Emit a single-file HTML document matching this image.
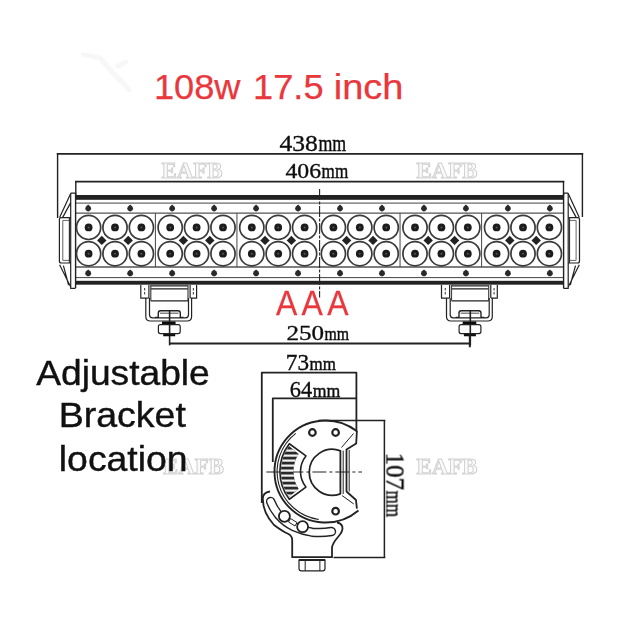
<!DOCTYPE html>
<html><head><meta charset="utf-8"><title>108w 17.5 inch light bar</title>
<style>
html,body{margin:0;padding:0;background:#fff;}
body{width:640px;height:636px;overflow:hidden;font-family:"Liberation Sans",sans-serif;}
svg{display:block;}
</style></head><body>
<svg width="640" height="636" viewBox="0 0 640 636">
<rect width="640" height="636" fill="#fff"/>
<text x="161.5" y="178" font-family="Liberation Serif, serif" font-weight="bold" font-size="24" fill="#fbfbfb" stroke="#d2d2d2" stroke-width="1.1" filter="url(#bl2)" textLength="61" lengthAdjust="spacingAndGlyphs">EAFB</text>
<text x="416.5" y="178" font-family="Liberation Serif, serif" font-weight="bold" font-size="24" fill="#fbfbfb" stroke="#d2d2d2" stroke-width="1.1" filter="url(#bl2)" textLength="61" lengthAdjust="spacingAndGlyphs">EAFB</text>
<text x="163" y="474" font-family="Liberation Serif, serif" font-weight="bold" font-size="24" fill="#fbfbfb" stroke="#d2d2d2" stroke-width="1.1" filter="url(#bl2)" textLength="61" lengthAdjust="spacingAndGlyphs">EAFB</text>
<text x="416.5" y="474" font-family="Liberation Serif, serif" font-weight="bold" font-size="24" fill="#fbfbfb" stroke="#d2d2d2" stroke-width="1.1" filter="url(#bl2)" textLength="61" lengthAdjust="spacingAndGlyphs">EAFB</text>
<defs><filter id="bl" x="-2%" y="-2%" width="104%" height="104%"><feGaussianBlur stdDeviation="0.42"/></filter><filter id="bl2"><feGaussianBlur stdDeviation="0.3"/></filter></defs>
<g filter="url(#bl)">
<g stroke="#222" fill="none" stroke-linecap="butt">
<path d="M56.8 153.9H583.2" stroke-width="1.8"/>
<path d="M57.6 153V218M582.4 153V217" stroke-width="1.4"/>
<path d="M75 181.6H564.3" stroke-width="1.7"/>
<path d="M75.8 181V196M563.5 181V196" stroke-width="1.4"/>
<rect x="75.6" y="195" width="488.0" height="4.8" fill="#222" stroke="none"/>
<rect x="75.6" y="280.8" width="488.0" height="3.9" fill="#222" stroke="none"/>
<path d="M75.6 203.1H563.6M75.6 277.6H563.6" stroke-width="1" stroke="#444"/>
<path d="M75.6 213.2H563.6M75.6 267H563.6" stroke-width="1.3" stroke="#555"/>
<path d="M75.6 193V288M563.6 193V288" stroke-width="1.4"/>
<path d="M319.59999999999997 189V297.4" stroke-width="1.1" stroke="#222" stroke-dasharray="11 1.5 3 1.5"/>
<path d="M155.4 213.2V267" stroke-width="1" stroke="#444"/>
<path d="M236.95 213.2V267" stroke-width="1" stroke="#444"/>
<path d="M400.05 213.2V267" stroke-width="1" stroke="#444"/>
<path d="M481.6 213.2V267" stroke-width="1" stroke="#444"/>
</g>
<g stroke="#222" fill="none" stroke-width="1.2" stroke-linejoin="round"><path d="M70.7 193.2H75.6M70.7 193.2V288.4H75.6" /><path d="M70.7 193.6L59.6 217.6M70.7 202.6L62.6 217.6"/><path d="M70.7 217.6H61.4Q59.4 217.6 59.4 219.6V261Q59.4 263 61.4 263H70.7"/><path d="M62.8 220.4V260.4" stroke="#666" stroke-width="1"/><path d="M62.8 220.4H69M62.8 260.4H69" stroke="#666" stroke-width="1"/><path d="M69.4 217.6V263" stroke="#333" stroke-width="1.2"/><path d="M59.6 264.8L70.7 287M63.4 265.6L68.6 285"/></g>
<g transform="translate(638.9 0) scale(-1 1)"><g stroke="#222" fill="none" stroke-width="1.2" stroke-linejoin="round"><path d="M70.7 193.2H75.6M70.7 193.2V288.4H75.6" /><path d="M70.7 193.6L59.6 217.6M70.7 202.6L62.6 217.6"/><path d="M70.7 217.6H61.4Q59.4 217.6 59.4 219.6V261Q59.4 263 61.4 263H70.7"/><path d="M62.8 220.4V260.4" stroke="#666" stroke-width="1"/><path d="M62.8 220.4H69M62.8 260.4H69" stroke="#666" stroke-width="1"/><path d="M69.4 217.6V263" stroke="#333" stroke-width="1.2"/><path d="M59.6 264.8L70.7 287M63.4 265.6L68.6 285"/></g></g>
<g>
<circle cx="88.6" cy="227.4" r="12.1" fill="#fff" stroke="#3a3a3a" stroke-width="1.7"/>
<circle cx="88.6" cy="227.4" r="3.9" fill="#1c1c1c"/>
<circle cx="88.6" cy="227.4" r="1" fill="#555"/>
<circle cx="88.6" cy="253.7" r="12.1" fill="#fff" stroke="#3a3a3a" stroke-width="1.7"/>
<circle cx="88.6" cy="253.7" r="3.9" fill="#1c1c1c"/>
<circle cx="88.6" cy="253.7" r="1" fill="#555"/>
<circle cx="115" cy="227.4" r="12.1" fill="#fff" stroke="#3a3a3a" stroke-width="1.7"/>
<circle cx="115" cy="227.4" r="3.9" fill="#1c1c1c"/>
<circle cx="115" cy="227.4" r="1" fill="#555"/>
<circle cx="115" cy="253.7" r="12.1" fill="#fff" stroke="#3a3a3a" stroke-width="1.7"/>
<circle cx="115" cy="253.7" r="3.9" fill="#1c1c1c"/>
<circle cx="115" cy="253.7" r="1" fill="#555"/>
<circle cx="141.4" cy="227.4" r="12.1" fill="#fff" stroke="#3a3a3a" stroke-width="1.7"/>
<circle cx="141.4" cy="227.4" r="3.9" fill="#1c1c1c"/>
<circle cx="141.4" cy="227.4" r="1" fill="#555"/>
<circle cx="141.4" cy="253.7" r="12.1" fill="#fff" stroke="#3a3a3a" stroke-width="1.7"/>
<circle cx="141.4" cy="253.7" r="3.9" fill="#1c1c1c"/>
<circle cx="141.4" cy="253.7" r="1" fill="#555"/>
<path d="M97.1 240.4L101.8 235.7L106.5 240.4L101.8 245.1Z" fill="#222"/>
<path d="M123.5 240.4L128.2 235.7L132.9 240.4L128.2 245.1Z" fill="#222"/>
<circle cx="170.2" cy="227.4" r="12.1" fill="#fff" stroke="#3a3a3a" stroke-width="1.7"/>
<circle cx="170.2" cy="227.4" r="3.9" fill="#1c1c1c"/>
<circle cx="170.2" cy="227.4" r="1" fill="#555"/>
<circle cx="170.2" cy="253.7" r="12.1" fill="#fff" stroke="#3a3a3a" stroke-width="1.7"/>
<circle cx="170.2" cy="253.7" r="3.9" fill="#1c1c1c"/>
<circle cx="170.2" cy="253.7" r="1" fill="#555"/>
<circle cx="196.6" cy="227.4" r="12.1" fill="#fff" stroke="#3a3a3a" stroke-width="1.7"/>
<circle cx="196.6" cy="227.4" r="3.9" fill="#1c1c1c"/>
<circle cx="196.6" cy="227.4" r="1" fill="#555"/>
<circle cx="196.6" cy="253.7" r="12.1" fill="#fff" stroke="#3a3a3a" stroke-width="1.7"/>
<circle cx="196.6" cy="253.7" r="3.9" fill="#1c1c1c"/>
<circle cx="196.6" cy="253.7" r="1" fill="#555"/>
<circle cx="223" cy="227.4" r="12.1" fill="#fff" stroke="#3a3a3a" stroke-width="1.7"/>
<circle cx="223" cy="227.4" r="3.9" fill="#1c1c1c"/>
<circle cx="223" cy="227.4" r="1" fill="#555"/>
<circle cx="223" cy="253.7" r="12.1" fill="#fff" stroke="#3a3a3a" stroke-width="1.7"/>
<circle cx="223" cy="253.7" r="3.9" fill="#1c1c1c"/>
<circle cx="223" cy="253.7" r="1" fill="#555"/>
<path d="M178.7 240.4L183.4 235.7L188.1 240.4L183.4 245.1Z" fill="#222"/>
<path d="M205.1 240.4L209.8 235.7L214.5 240.4L209.8 245.1Z" fill="#222"/>
<circle cx="251.8" cy="227.4" r="12.1" fill="#fff" stroke="#3a3a3a" stroke-width="1.7"/>
<circle cx="251.8" cy="227.4" r="3.9" fill="#1c1c1c"/>
<circle cx="251.8" cy="227.4" r="1" fill="#555"/>
<circle cx="251.8" cy="253.7" r="12.1" fill="#fff" stroke="#3a3a3a" stroke-width="1.7"/>
<circle cx="251.8" cy="253.7" r="3.9" fill="#1c1c1c"/>
<circle cx="251.8" cy="253.7" r="1" fill="#555"/>
<circle cx="278.2" cy="227.4" r="12.1" fill="#fff" stroke="#3a3a3a" stroke-width="1.7"/>
<circle cx="278.2" cy="227.4" r="3.9" fill="#1c1c1c"/>
<circle cx="278.2" cy="227.4" r="1" fill="#555"/>
<circle cx="278.2" cy="253.7" r="12.1" fill="#fff" stroke="#3a3a3a" stroke-width="1.7"/>
<circle cx="278.2" cy="253.7" r="3.9" fill="#1c1c1c"/>
<circle cx="278.2" cy="253.7" r="1" fill="#555"/>
<circle cx="304.6" cy="227.4" r="12.1" fill="#fff" stroke="#3a3a3a" stroke-width="1.7"/>
<circle cx="304.6" cy="227.4" r="3.9" fill="#1c1c1c"/>
<circle cx="304.6" cy="227.4" r="1" fill="#555"/>
<circle cx="304.6" cy="253.7" r="12.1" fill="#fff" stroke="#3a3a3a" stroke-width="1.7"/>
<circle cx="304.6" cy="253.7" r="3.9" fill="#1c1c1c"/>
<circle cx="304.6" cy="253.7" r="1" fill="#555"/>
<path d="M260.3 240.4L265 235.7L269.7 240.4L265 245.1Z" fill="#222"/>
<path d="M286.7 240.4L291.4 235.7L296.1 240.4L291.4 245.1Z" fill="#222"/>
<circle cx="333.4" cy="227.4" r="12.1" fill="#fff" stroke="#3a3a3a" stroke-width="1.7"/>
<circle cx="333.4" cy="227.4" r="3.9" fill="#1c1c1c"/>
<circle cx="333.4" cy="227.4" r="1" fill="#555"/>
<circle cx="333.4" cy="253.7" r="12.1" fill="#fff" stroke="#3a3a3a" stroke-width="1.7"/>
<circle cx="333.4" cy="253.7" r="3.9" fill="#1c1c1c"/>
<circle cx="333.4" cy="253.7" r="1" fill="#555"/>
<circle cx="359.8" cy="227.4" r="12.1" fill="#fff" stroke="#3a3a3a" stroke-width="1.7"/>
<circle cx="359.8" cy="227.4" r="3.9" fill="#1c1c1c"/>
<circle cx="359.8" cy="227.4" r="1" fill="#555"/>
<circle cx="359.8" cy="253.7" r="12.1" fill="#fff" stroke="#3a3a3a" stroke-width="1.7"/>
<circle cx="359.8" cy="253.7" r="3.9" fill="#1c1c1c"/>
<circle cx="359.8" cy="253.7" r="1" fill="#555"/>
<circle cx="386.2" cy="227.4" r="12.1" fill="#fff" stroke="#3a3a3a" stroke-width="1.7"/>
<circle cx="386.2" cy="227.4" r="3.9" fill="#1c1c1c"/>
<circle cx="386.2" cy="227.4" r="1" fill="#555"/>
<circle cx="386.2" cy="253.7" r="12.1" fill="#fff" stroke="#3a3a3a" stroke-width="1.7"/>
<circle cx="386.2" cy="253.7" r="3.9" fill="#1c1c1c"/>
<circle cx="386.2" cy="253.7" r="1" fill="#555"/>
<path d="M341.9 240.4L346.6 235.7L351.3 240.4L346.6 245.1Z" fill="#222"/>
<path d="M368.3 240.4L373 235.7L377.7 240.4L373 245.1Z" fill="#222"/>
<circle cx="415" cy="227.4" r="12.1" fill="#fff" stroke="#3a3a3a" stroke-width="1.7"/>
<circle cx="415" cy="227.4" r="3.9" fill="#1c1c1c"/>
<circle cx="415" cy="227.4" r="1" fill="#555"/>
<circle cx="415" cy="253.7" r="12.1" fill="#fff" stroke="#3a3a3a" stroke-width="1.7"/>
<circle cx="415" cy="253.7" r="3.9" fill="#1c1c1c"/>
<circle cx="415" cy="253.7" r="1" fill="#555"/>
<circle cx="441.4" cy="227.4" r="12.1" fill="#fff" stroke="#3a3a3a" stroke-width="1.7"/>
<circle cx="441.4" cy="227.4" r="3.9" fill="#1c1c1c"/>
<circle cx="441.4" cy="227.4" r="1" fill="#555"/>
<circle cx="441.4" cy="253.7" r="12.1" fill="#fff" stroke="#3a3a3a" stroke-width="1.7"/>
<circle cx="441.4" cy="253.7" r="3.9" fill="#1c1c1c"/>
<circle cx="441.4" cy="253.7" r="1" fill="#555"/>
<circle cx="467.8" cy="227.4" r="12.1" fill="#fff" stroke="#3a3a3a" stroke-width="1.7"/>
<circle cx="467.8" cy="227.4" r="3.9" fill="#1c1c1c"/>
<circle cx="467.8" cy="227.4" r="1" fill="#555"/>
<circle cx="467.8" cy="253.7" r="12.1" fill="#fff" stroke="#3a3a3a" stroke-width="1.7"/>
<circle cx="467.8" cy="253.7" r="3.9" fill="#1c1c1c"/>
<circle cx="467.8" cy="253.7" r="1" fill="#555"/>
<path d="M423.5 240.4L428.2 235.7L432.9 240.4L428.2 245.1Z" fill="#222"/>
<path d="M449.9 240.4L454.6 235.7L459.3 240.4L454.6 245.1Z" fill="#222"/>
<circle cx="496.6" cy="227.4" r="12.1" fill="#fff" stroke="#3a3a3a" stroke-width="1.7"/>
<circle cx="496.6" cy="227.4" r="3.9" fill="#1c1c1c"/>
<circle cx="496.6" cy="227.4" r="1" fill="#555"/>
<circle cx="496.6" cy="253.7" r="12.1" fill="#fff" stroke="#3a3a3a" stroke-width="1.7"/>
<circle cx="496.6" cy="253.7" r="3.9" fill="#1c1c1c"/>
<circle cx="496.6" cy="253.7" r="1" fill="#555"/>
<circle cx="523" cy="227.4" r="12.1" fill="#fff" stroke="#3a3a3a" stroke-width="1.7"/>
<circle cx="523" cy="227.4" r="3.9" fill="#1c1c1c"/>
<circle cx="523" cy="227.4" r="1" fill="#555"/>
<circle cx="523" cy="253.7" r="12.1" fill="#fff" stroke="#3a3a3a" stroke-width="1.7"/>
<circle cx="523" cy="253.7" r="3.9" fill="#1c1c1c"/>
<circle cx="523" cy="253.7" r="1" fill="#555"/>
<circle cx="549.4" cy="227.4" r="12.1" fill="#fff" stroke="#3a3a3a" stroke-width="1.7"/>
<circle cx="549.4" cy="227.4" r="3.9" fill="#1c1c1c"/>
<circle cx="549.4" cy="227.4" r="1" fill="#555"/>
<circle cx="549.4" cy="253.7" r="12.1" fill="#fff" stroke="#3a3a3a" stroke-width="1.7"/>
<circle cx="549.4" cy="253.7" r="3.9" fill="#1c1c1c"/>
<circle cx="549.4" cy="253.7" r="1" fill="#555"/>
<path d="M505.1 240.4L509.8 235.7L514.5 240.4L509.8 245.1Z" fill="#222"/>
<path d="M531.5 240.4L536.2 235.7L540.9 240.4L536.2 245.1Z" fill="#222"/>
</g>
<g fill="#2a2a2a">
<path d="M88.2 204.6L90.6 206.8A2.9 2.9 0 1 1 85.8 206.8Z"/>
<path d="M88.2 269.4L90.6 271.6A2.9 2.9 0 1 1 85.8 271.6Z"/>
<path d="M130.17 204.6L132.57 206.8A2.9 2.9 0 1 1 127.77 206.8Z"/>
<path d="M130.17 269.4L132.57 271.6A2.9 2.9 0 1 1 127.77 271.6Z"/>
<path d="M172.14 204.6L174.54 206.8A2.9 2.9 0 1 1 169.74 206.8Z"/>
<path d="M172.14 269.4L174.54 271.6A2.9 2.9 0 1 1 169.74 271.6Z"/>
<path d="M214.11 204.6L216.51 206.8A2.9 2.9 0 1 1 211.71 206.8Z"/>
<path d="M214.11 269.4L216.51 271.6A2.9 2.9 0 1 1 211.71 271.6Z"/>
<path d="M256.08 204.6L258.48 206.8A2.9 2.9 0 1 1 253.68 206.8Z"/>
<path d="M256.08 269.4L258.48 271.6A2.9 2.9 0 1 1 253.68 271.6Z"/>
<path d="M298.05 204.6L300.45 206.8A2.9 2.9 0 1 1 295.65 206.8Z"/>
<path d="M298.05 269.4L300.45 271.6A2.9 2.9 0 1 1 295.65 271.6Z"/>
<path d="M340.02 204.6L342.42 206.8A2.9 2.9 0 1 1 337.62 206.8Z"/>
<path d="M340.02 269.4L342.42 271.6A2.9 2.9 0 1 1 337.62 271.6Z"/>
<path d="M381.99 204.6L384.39 206.8A2.9 2.9 0 1 1 379.59 206.8Z"/>
<path d="M381.99 269.4L384.39 271.6A2.9 2.9 0 1 1 379.59 271.6Z"/>
<path d="M423.96 204.6L426.36 206.8A2.9 2.9 0 1 1 421.56 206.8Z"/>
<path d="M423.96 269.4L426.36 271.6A2.9 2.9 0 1 1 421.56 271.6Z"/>
<path d="M465.93 204.6L468.33 206.8A2.9 2.9 0 1 1 463.53 206.8Z"/>
<path d="M465.93 269.4L468.33 271.6A2.9 2.9 0 1 1 463.53 271.6Z"/>
<path d="M507.9 204.6L510.3 206.8A2.9 2.9 0 1 1 505.5 206.8Z"/>
<path d="M507.9 269.4L510.3 271.6A2.9 2.9 0 1 1 505.5 271.6Z"/>
<path d="M549.87 204.6L552.27 206.8A2.9 2.9 0 1 1 547.47 206.8Z"/>
<path d="M549.87 269.4L552.27 271.6A2.9 2.9 0 1 1 547.47 271.6Z"/>
</g>
<g stroke="#222" fill="none" stroke-width="1.2" stroke-linejoin="round"><path d="M140.8 285V298.2H148.6M148.9 285V298M196.6 285V298.2H190.4M190.1 285V298"/><path d="M144.6 288V295M193.4 288V295" stroke-dasharray="2.5 1.5" stroke="#555"/><path d="M150.8 285.8H188M150.8 288.8H188M150.8 300.8H188" /><path d="M150.8 285V300.8M188 285V300.8" stroke="#444"/><path d="M145.8 298V316.5Q145.8 321 150.3 321H187Q191.6 321 191.6 316.5V298"/><path d="M149.5 298V314.8Q149.5 317.8 152.5 317.8H185.5Q188.5 317.8 188.5 314.8V298"/><path d="M155 317.4H158.3V313Q158.3 310.8 160.5 310.8H178Q180.3 310.8 180.3 313V317.4H183.6" stroke-width="1.4"/><path d="M160 313.2H178.6" stroke="#666"/><path d="M169.6 311V345.4" stroke-width="1.6"/><path d="M162 322.9H175.6M163.2 334.9H175.2" stroke-width="2.7" stroke="#111"/><rect x="158.4" y="324.6" width="21.8" height="9" rx="2" /></g>
<g transform="translate(300.7 0)"><g stroke="#222" fill="none" stroke-width="1.2" stroke-linejoin="round"><path d="M140.8 285V298.2H148.6M148.9 285V298M196.6 285V298.2H190.4M190.1 285V298"/><path d="M144.6 288V295M193.4 288V295" stroke-dasharray="2.5 1.5" stroke="#555"/><path d="M150.8 285.8H188M150.8 288.8H188M150.8 300.8H188" /><path d="M150.8 285V300.8M188 285V300.8" stroke="#444"/><path d="M145.8 298V316.5Q145.8 321 150.3 321H187Q191.6 321 191.6 316.5V298"/><path d="M149.5 298V314.8Q149.5 317.8 152.5 317.8H185.5Q188.5 317.8 188.5 314.8V298"/><path d="M155 317.4H158.3V313Q158.3 310.8 160.5 310.8H178Q180.3 310.8 180.3 313V317.4H183.6" stroke-width="1.4"/><path d="M160 313.2H178.6" stroke="#666"/><path d="M169.6 311V345.4" stroke-width="1.6"/><path d="M162 322.9H175.6M163.2 334.9H175.2" stroke-width="2.7" stroke="#111"/><rect x="158.4" y="324.6" width="21.8" height="9" rx="2" /></g></g>
<path d="M169.6 343.4H469.8M469.8 335V347.2" stroke="#222" stroke-width="2" fill="none"/>
<g stroke="#222" fill="none" stroke-width="1.5" stroke-linejoin="round">
<path d="M261.8 503V372.6H356.4V431.5" stroke-width="1.8"/>
<path d="M272.8 462V398.4H356.4" stroke-width="1.8"/>
<path d="M318 420.4H385.4M384.4 420.4V557M333.5 557.4H385.4" stroke-width="1.5"/>
<path d="M266.4 472H362" stroke-width="1" stroke-dasharray="14 3 3 3"/>
<path d="M356.65 431.12A51 51 0 1 0 358.45 510.43" stroke-width="1.9"/>
<path d="M295.7 433.36A48.4 48.4 0 0 0 318.76 519.43" stroke-width="1.1"/>
<path d="M356.9 430.8L356.2 443.5L346.5 449.5V491.5L356 500L356.9 508.6" stroke-width="1.8"/>
<path d="M349.2 450V491.5" stroke-width="1"/>
<path d="M353.5 433.5L341.5 447.5M353.8 504L342 495.5" stroke-width="1"/>
<path d="M340.4 450.8A23 23 0 1 0 340.4 493.8Z" stroke-width="1.8"/>
<path d="M343.2 450.6V494" stroke-width="1"/>
<path d="M289.32 443.74A45.6 45.6 0 0 0 289.32 499.26L305.93 487.06A25 25 0 0 1 305.93 455.94Z" stroke-width="1.6"/>
<clipPath id="fc"><path d="M288.97 445.92A44.6 44.6 0 0 0 288.97 497.08L298.66 488.93A32 32 0 0 1 298.66 454.07Z"/></clipPath>
<g clip-path="url(#fc)"><rect x="270" y="440" width="40" height="64" fill="#2a2a2a" stroke="none"/>
<rect x="278" y="449.5" width="26" height="2.2" fill="#f2f2f2" stroke="none"/>
<rect x="278" y="454.5" width="26" height="2.2" fill="#f2f2f2" stroke="none"/>
<rect x="278" y="459.5" width="26" height="2.2" fill="#f2f2f2" stroke="none"/>
<rect x="278" y="464.5" width="26" height="2.2" fill="#f2f2f2" stroke="none"/>
<rect x="278" y="469.5" width="26" height="2.2" fill="#f2f2f2" stroke="none"/>
<rect x="278" y="474.5" width="26" height="2.2" fill="#f2f2f2" stroke="none"/>
<rect x="278" y="479.5" width="26" height="2.2" fill="#f2f2f2" stroke="none"/>
<rect x="278" y="484.5" width="26" height="2.2" fill="#f2f2f2" stroke="none"/>
<rect x="278" y="489.5" width="26" height="2.2" fill="#f2f2f2" stroke="none"/>
<rect x="278" y="494.5" width="26" height="2.2" fill="#f2f2f2" stroke="none"/>
</g>
<circle cx="312.4" cy="432.5" r="3.3" stroke-width="2.2"/>
<circle cx="335.6" cy="432.5" r="3.3" stroke-width="2.2"/>
<circle cx="335.6" cy="511.2" r="3.3" stroke-width="2.2"/>
<path d="M270 491.5Q262.6 492.5 262.8 499Q263 513 274 525Q282 531 288 533.8Q292.2 536 292.2 540V557.2H332V548Q332 544 338 537Q343.5 531 342.3 526.5Q341 523 337 522.5" stroke-width="1.8"/>
<path d="M270.6 501.5Q273 508 278.3 514.6Q285 522.5 293.9 526.7Q303 530.8 312.1 532.2Q322 533.2 331.5 531.5" stroke-width="9.4" stroke-linecap="round" stroke="#222"/>
<path d="M270.6 501.5Q273 508 278.3 514.6Q285 522.5 293.9 526.7Q303 530.8 312.1 532.2Q322 533.2 331.5 531.5" stroke-width="6.6" stroke-linecap="round" stroke="#fff"/>
<circle cx="284.4" cy="516.3" r="5.5" fill="#fff" stroke-width="1.8"/>
<circle cx="302.6" cy="526.7" r="5.5" fill="#fff" stroke-width="1.8"/>
<path d="M290.5 518.5L297 522.5L295 526L288.5 522Z" fill="#fff" stroke-width="1"/>
<path d="M299 559.8H325V568.5Q325 570.8 322.7 570.8H301.3Q299 570.8 299 568.5Z" stroke-width="1.2"/>
<path d="M299 560H325" stroke-width="2"/>
<path d="M305.2 560V570.8M319.9 560V570.8" stroke-width="1"/>
</g>
</g>
<path d="M82 54L100 58L112 72L124 84L130 91M118 66L126 62" stroke="#f7f7f7" stroke-width="5" fill="none" stroke-linecap="round" filter="url(#bl)"/>
<text x="153.9" y="99.3" font-family="Liberation Sans, sans-serif" font-size="35.4" fill="#e9383d" stroke="#e9383d" stroke-width="0.25" textLength="86.6" lengthAdjust="spacingAndGlyphs">108w</text>
<text x="253.0" y="99.3" font-family="Liberation Sans, sans-serif" font-size="35.4" fill="#e9383d" stroke="#e9383d" stroke-width="0.25" textLength="70.6" lengthAdjust="spacingAndGlyphs">17.5</text>
<text x="333.7" y="99.3" font-family="Liberation Sans, sans-serif" font-size="35.4" fill="#e9383d" stroke="#e9383d" stroke-width="0.25" textLength="69.8" lengthAdjust="spacingAndGlyphs">inch</text>
<text transform="translate(275.9 315.4) scale(0.905 1)" font-family="Liberation Sans, sans-serif" font-size="35.3" letter-spacing="4.8" fill="#e9383d" stroke="#e9383d" stroke-width="0.25">AAA</text>
<text x="36.2" y="384.6" font-family="Liberation Sans, sans-serif" font-size="35" fill="#111" stroke="#111" stroke-width="0.4" textLength="173.6" lengthAdjust="spacingAndGlyphs">Adjustable</text>
<text x="58.7" y="427.0" font-family="Liberation Sans, sans-serif" font-size="35" fill="#111" stroke="#111" stroke-width="0.4" textLength="127.2" lengthAdjust="spacingAndGlyphs">Bracket</text>
<text x="58.8" y="470.7" font-family="Liberation Sans, sans-serif" font-size="35" fill="#111" stroke="#111" stroke-width="0.4" textLength="128.8" lengthAdjust="spacingAndGlyphs">location</text>
<g filter="url(#bl2)"><text x="279.5" y="151.1" font-family="Liberation Serif, serif" font-size="23.4" fill="#111" stroke="#111" stroke-width="0.35" textLength="38.4" lengthAdjust="spacingAndGlyphs">438</text><text x="318.4" y="151.1" font-family="Liberation Serif, serif" font-size="22.6" fill="#111" stroke="#111" stroke-width="0.45" textLength="27.8" lengthAdjust="spacingAndGlyphs">mm</text></g>
<g filter="url(#bl2)"><text x="285.5" y="178" font-family="Liberation Serif, serif" font-size="21.8" fill="#111" stroke="#111" stroke-width="0.35" textLength="35.6" lengthAdjust="spacingAndGlyphs">406</text><text x="321.6" y="178" font-family="Liberation Serif, serif" font-size="21.2" fill="#111" stroke="#111" stroke-width="0.45" textLength="26.6" lengthAdjust="spacingAndGlyphs">mm</text></g>
<g filter="url(#bl2)"><text x="286.4" y="340.3" font-family="Liberation Serif, serif" font-size="21.6" fill="#111" stroke="#111" stroke-width="0.35" textLength="37.6" lengthAdjust="spacingAndGlyphs">250</text><text x="324.5" y="340.3" font-family="Liberation Serif, serif" font-size="17.8" fill="#111" stroke="#111" stroke-width="0.45" textLength="24.6" lengthAdjust="spacingAndGlyphs">mm</text></g>
<g filter="url(#bl2)"><text x="285.8" y="369.8" font-family="Liberation Serif, serif" font-size="22.4" fill="#111" stroke="#111" stroke-width="0.35" textLength="23.2" lengthAdjust="spacingAndGlyphs">73</text><text x="309.5" y="369.8" font-family="Liberation Serif, serif" font-size="19.8" fill="#111" stroke="#111" stroke-width="0.45" textLength="26.4" lengthAdjust="spacingAndGlyphs">mm</text></g>
<g filter="url(#bl2)"><text x="289.8" y="396.5" font-family="Liberation Serif, serif" font-size="22.4" fill="#111" stroke="#111" stroke-width="0.35" textLength="22.4" lengthAdjust="spacingAndGlyphs">64</text><text x="312.7" y="396.5" font-family="Liberation Serif, serif" font-size="19.8" fill="#111" stroke="#111" stroke-width="0.45" textLength="27.6" lengthAdjust="spacingAndGlyphs">mm</text></g>
<g transform="translate(386.5 452.6) rotate(90)"><g filter="url(#bl2)"><text x="0" y="0" font-family="Liberation Serif, serif" font-size="24.8" fill="#111" stroke="#111" stroke-width="0.35" textLength="37.6" lengthAdjust="spacingAndGlyphs">107</text><text x="38.1" y="0" font-family="Liberation Serif, serif" font-size="23.7" fill="#111" stroke="#111" stroke-width="0.45" textLength="26.4" lengthAdjust="spacingAndGlyphs">mm</text></g></g>
</svg>
</body></html>
